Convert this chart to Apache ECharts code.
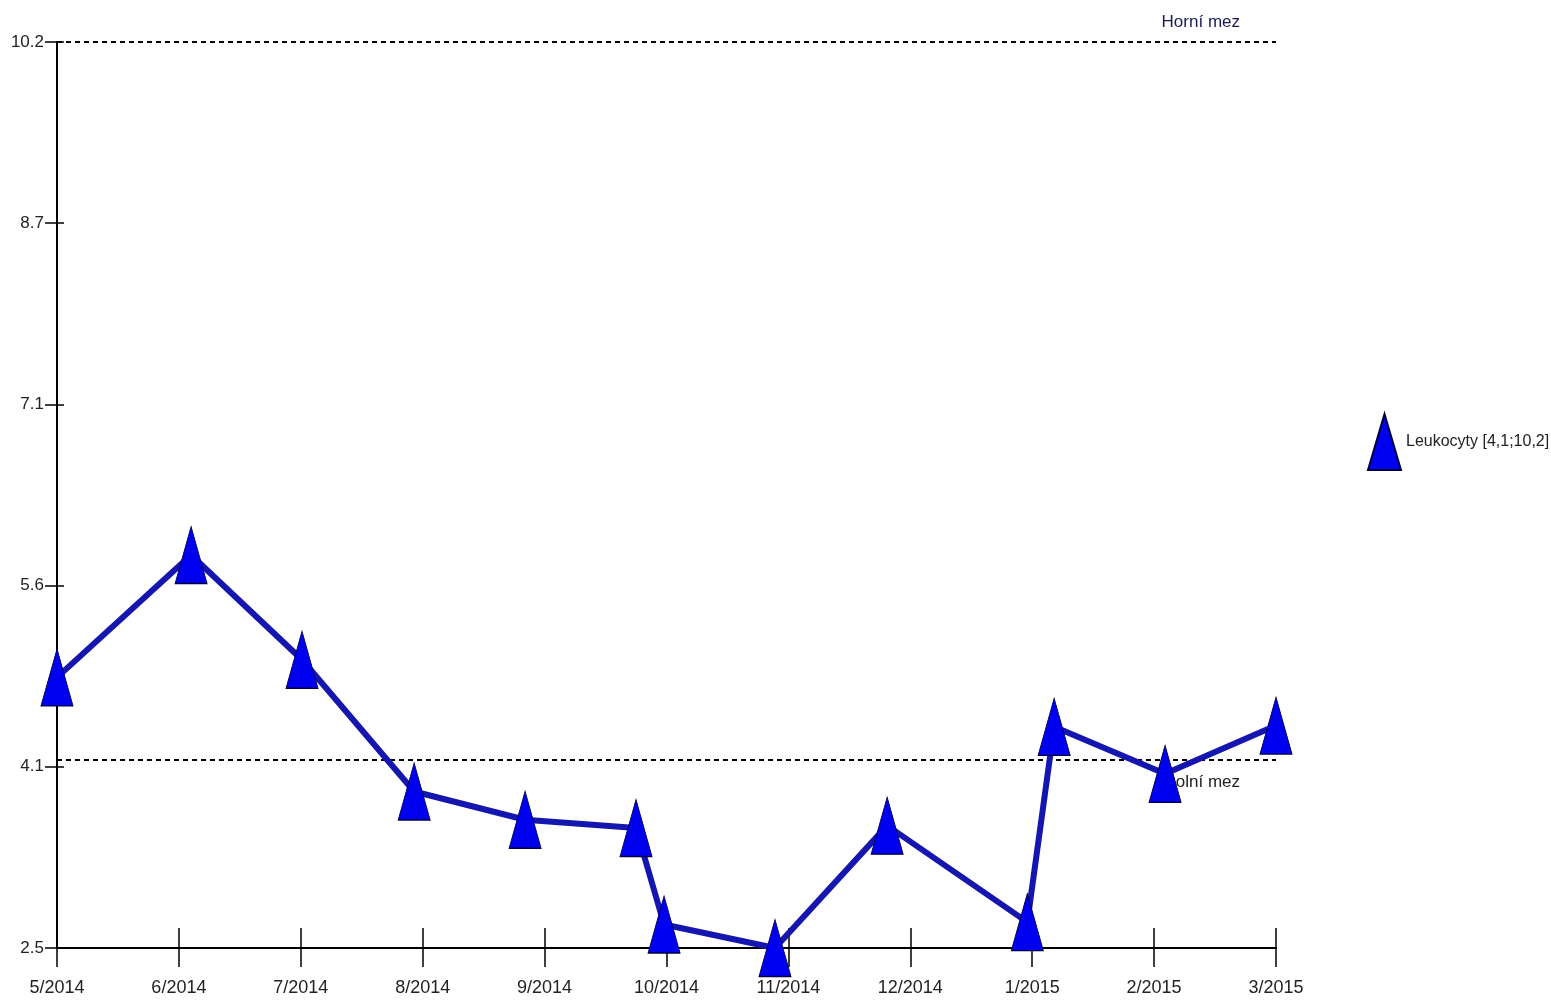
<!DOCTYPE html>
<html>
<head>
<meta charset="utf-8">
<script src="https://cdn.jsdelivr.net/npm/echarts@6/dist/echarts.min.js"></script>
<style>
  html, body { margin: 0; padding: 0; background: #fff; }
  #myChart { width: 1551px; height: 1003px; }
</style>
</head>
<body>
<div id="myChart"></div>
<script>
  // month labels on the x axis (one per month, equal spacing)
  var monthLabels = ['5/2014', '6/2014', '7/2014', '8/2014', '9/2014', '10/2014',
                     '11/2014', '12/2014', '1/2015', '2/2015', '3/2015'];
  // y tick labels as printed on the original
  var yTickLabels = ['2.5', '4.1', '5.6', '7.1', '8.7', '10.2'];
  // measurement position in months after 5/2014
  var monthPos = [0, 1.10, 2.01, 2.93, 3.84, 4.75, 4.98, 5.89, 6.81, 7.96, 8.18, 9.09, 10.0];
  // leukocyte values
  var leuko = [4.80, 5.84, 4.95, 3.83, 3.59, 3.52, 2.70, 2.50, 3.54, 2.72, 4.38, 3.98, 4.39];
  var lowerLimit = 4.1;
  var upperLimit = 10.2;
  var yMin = 2.5, yMax = 10.2;

  var font = "'Liberation Sans', Arial, sans-serif";

  var points = [];
  for (var i = 0; i < leuko.length; i++) {
    points.push([monthPos[i], leuko[i]]);
  }

  var myChart = echarts.init(document.getElementById('myChart'));

  var yStep = (yMax - yMin) / 5;

  myChart.setOption({
    animation: false,
    backgroundColor: '#fff',
    grid: { left: 57, top: 42, width: 1219, height: 906 },
    legend: {
      left: 1362,
      top: 408,
      itemWidth: 33,
      itemHeight: 56,
      itemGap: 4,
      data: [{ name: 'Leukocyty [4,1;10,2]', icon: 'triangle' }],
      textStyle: { fontFamily: font, fontSize: 16, color: '#222' }
    },
    xAxis: [
      {
        type: 'value',
        min: 0, max: 10, interval: 1,
        splitLine: { show: false },
        axisLine: { lineStyle: { color: '#000', width: 2 } },
        axisTick: { length: 19, lineStyle: { color: '#000', width: 1.5 } },
        axisLabel: {
          margin: 31,
          fontFamily: font, fontSize: 18, color: '#222',
          formatter: function (v) { return monthLabels[Math.round(v)]; }
        }
      },
      {
        type: 'value',
        position: 'bottom',
        min: 0, max: 10, interval: 1,
        splitLine: { show: false },
        axisLine: { show: false },
        axisTick: { inside: true, length: 20, lineStyle: { color: '#000', width: 1.5 } },
        axisLabel: { show: false }
      }
    ],
    yAxis: [
      {
        type: 'value',
        min: yMin, max: yMax, interval: yStep,
        splitLine: { show: false },
        axisLine: { show: true, lineStyle: { color: '#000', width: 2 } },
        axisTick: { show: true, length: 12, lineStyle: { color: '#000', width: 1.5 } },
        axisLabel: {
          margin: 13,
          fontFamily: font, fontSize: 17, color: '#222',
          formatter: function (v) { return yTickLabels[Math.round((v - yMin) / yStep)]; }
        }
      },
      {
        type: 'value',
        position: 'left',
        min: yMin, max: yMax, interval: yStep,
        splitLine: { show: false },
        axisLine: { show: false },
        axisTick: { show: true, inside: true, length: 7, lineStyle: { color: '#000', width: 1.5 } },
        axisLabel: { show: false }
      }
    ],
    series: [
      {
        name: 'Leukocyty [4,1;10,2]',
        type: 'line',
        data: points,
        clip: false,
        symbol: 'triangle',
        symbolSize: [32, 57],
        lineStyle: { color: '#1515b0', width: 6 },
        itemStyle: { color: '#0000f0', borderColor: '#000040', borderWidth: 1 },
        z: 3,
        markLine: {
          silent: true,
          symbol: 'none',
          z: 2,
          lineStyle: { color: '#000', width: 2, type: [5, 4] },
          data: [
            {
              yAxis: upperLimit,
              label: {
                formatter: 'Horní mez',
                position: 'insideEndTop',
                distance: [36, 11],
                fontFamily: font, fontSize: 17, color: '#1a1a55'
              }
            },
            {
              yAxis: lowerLimit,
              label: {
                formatter: 'Dolní mez',
                position: 'insideEndBottom',
                distance: [36, 14],
                fontFamily: font, fontSize: 17, color: '#222'
              }
            }
          ]
        }
      }
    ]
  });
</script>
</body>
</html>
